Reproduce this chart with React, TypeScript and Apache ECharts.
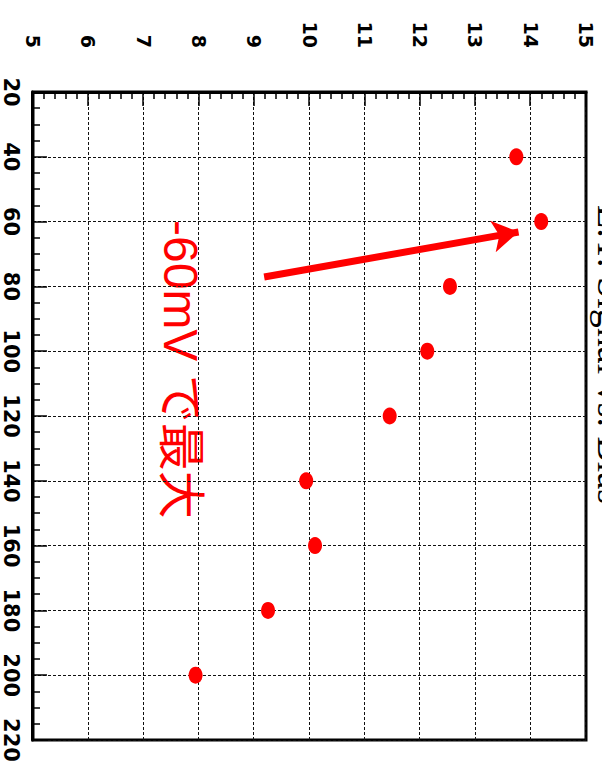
import React, { useEffect, useRef } from "react";
import * as echarts from "echarts";

// Bias voltage (mV) and peak signal values
const voltages = [40, 60, 80, 100, 120, 140, 160, 180, 200];
const signals = [13.74, 14.19, 12.54, 12.13, 11.45, 9.94, 10.1, 9.25, 7.94];

const xTicks = { min: 20, max: 220, interval: 20 };
const yTicks = { min: 5, max: 15, interval: 1 };

const titleText = "E.T. Signal vs. Bias";
const noteText = "-60mV で最大";
// arrow from (mV, signal) to (mV, signal)
const arrowFrom = [77.1, 9.18];
const arrowTo = [63.2, 13.78];

export default function App() {
  const ref = useRef<HTMLDivElement>(null);
  useEffect(() => {
    if (!ref.current) return;
    const chart = echarts.init(ref.current, null, { renderer: "svg" });
    const data = voltages.map((v, i) => [v, signals[i]]);
    chart.setOption({
      animation: false,
      backgroundColor: "#fff",
      grid: {
        left: 92,
        right: 39,
        top: 16,
        bottom: 29,
        show: true,
        borderColor: "#000",
        borderWidth: 3,
        backgroundColor: "transparent",
      },
      xAxis: {
        type: "value",
        min: xTicks.min,
        max: xTicks.max,
        interval: xTicks.interval,
        axisLine: { show: true, lineStyle: { color: "#000", width: 3 } },
        axisTick: { show: true, inside: true, length: 14, lineStyle: { color: "#000", width: 1.5 } },
        minorTick: { show: true, splitNumber: 4, length: 7, lineStyle: { color: "#000", width: 1.5 } },
        axisLabel: {
          color: "#000",
          fontWeight: "bold",
          fontSize: 21,
          fontFamily: "DejaVu Sans",
          margin: 12,
        },
        splitLine: { show: true, lineStyle: { color: "#111", width: 1, type: [3, 2] } },
      },
      yAxis: {
        type: "value",
        min: yTicks.min,
        max: yTicks.max,
        interval: yTicks.interval,
        axisLine: { show: true, lineStyle: { color: "#000", width: 3 } },
        axisTick: { show: true, inside: true, length: 14, lineStyle: { color: "#000", width: 1.5 } },
        minorTick: { show: true, splitNumber: 5, length: 7, lineStyle: { color: "#000", width: 1.5 } },
        axisLabel: {
          color: "#000",
          fontWeight: "bold",
          fontSize: 19,
          fontFamily: "DejaVu Sans",
          margin: 44,
        },
        splitLine: { show: true, lineStyle: { color: "#111", width: 1, type: [3, 2] } },
      },
      series: [
        {
          type: "scatter",
          data,
          symbol: "circle",
          symbolSize: [17, 14],
          itemStyle: { color: "#ff0000", opacity: 1 },
          markLine: {
            silent: true,
            symbol: ["none", "arrow"],
            symbolSize: [24, 26],
            label: { show: false },
            lineStyle: { color: "#ff0000", width: 7, type: "solid" },
            data: [[{ coord: arrowFrom }, { coord: arrowTo }]],
          },
        },
      ],
      graphic: [
        {
          type: "text",
          left: 205,
          top: -28,
          style: {
            text: titleText,
            fill: "#000",
            font: '38px "Liberation Serif", serif',
          },
        },
        {
          type: "text",
          x: 220,
          y: 422,
          style: {
            text: noteText,
            fill: "#ff0000",
            fontSize: 48,
            fontFamily: '"Liberation Sans", "Noto Sans CJK JP", sans-serif',
            verticalAlign: "middle",
            align: "left",
          },
        },
      ],
    });
    return () => chart.dispose();
  }, []);

  return (
    <div style={{ position: "fixed", left: 0, top: 0, width: 602, height: 779, overflow: "hidden", background: "#fff" }}>
      <div
        style={{
          position: "absolute",
          left: 0,
          top: 0,
          width: 779,
          height: 602,
          transformOrigin: "0 0",
          transform: "translateX(602px) rotate(90deg)",
        }}
      >
        <div ref={ref} style={{ width: 779, height: 602 }} />
      </div>
    </div>
  );
}
